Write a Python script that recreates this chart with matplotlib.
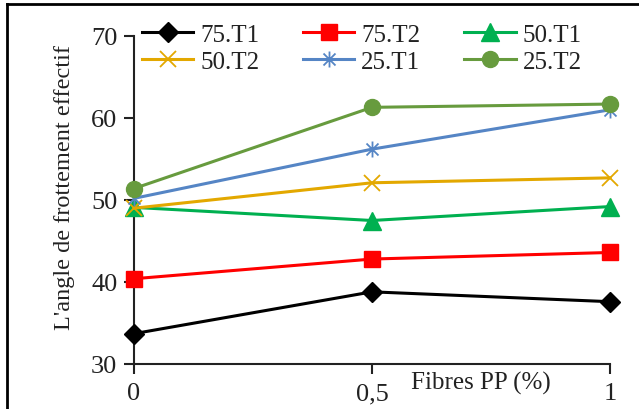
import matplotlib
matplotlib.use("Agg")
import matplotlib.pyplot as plt
from matplotlib.path import Path
from matplotlib.lines import Line2D

plt.rcParams['font.family'] = ['Liberation Serif', 'DejaVu Serif']

# Fibre content (%) and effective friction angle for each mix
fibres = [0, 0.5, 1]
series_names = ["75.T1", "75.T2", "50.T1", "50.T2", "25.T1", "25.T2"]
v_75_T1 = [33.7, 38.8, 37.6]
v_75_T2 = [40.4, 42.8, 43.6]
v_50_T1 = [49.1, 47.5, 49.2]
v_50_T2 = [49.0, 52.1, 52.7]
v_25_T1 = [50.2, 56.2, 61.0]
v_25_T2 = [51.4, 61.3, 61.7]
x_tick_labels = ["0", "0,5", "1"]
y_ticks = [30, 40, 50, 60, 70]

# asterisk marker: vertical bar plus an X
star = Path([(0, -1), (0, 1), (-0.75, -0.75), (0.75, 0.75), (-0.75, 0.75), (0.75, -0.75)],
            [Path.MOVETO, Path.LINETO, Path.MOVETO, Path.LINETO, Path.MOVETO, Path.LINETO])

styles = [
    dict(color="black", marker="D", ms=10.5),
    dict(color="#FF0000", marker="s", ms=12),
    dict(color="#00B050", marker="^", ms=12.5),
    dict(color="#E3A800", marker="x", ms=11.5, mew=1.3),
    dict(color="#5585C5", marker=star, ms=11.5, mew=1.3, mfc="none"),
    dict(color="#679B3E", marker="o", ms=11.5),
]
values = [v_75_T1, v_75_T2, v_50_T1, v_50_T2, v_25_T1, v_25_T2]

W, H = 639, 410
fig = plt.figure(figsize=(W / 100, H / 100), dpi=100)
ax = fig.add_axes([134 / W, 1 - 365 / H, (610 - 134) / W, (365 - 37) / H])

lines = []
for name, vals, st in zip(series_names, values, styles):
    ln, = ax.plot(fibres, vals, label=name, lw=2.2, clip_on=False, zorder=3, **st)
    lines.append(ln)

ax.set_xlim(0, 1)
ax.set_ylim(30, 70)
ax.set_xticks(fibres)
ax.set_xticklabels(x_tick_labels)
ax.set_yticks(y_ticks)
for s in ("top", "right"):
    ax.spines[s].set_visible(False)
for s in ("left", "bottom"):
    ax.spines[s].set_linewidth(1.5)
    ax.spines[s].set_color("#222222")
ax.tick_params(axis="both", direction="out", length=7, width=1.5, labelsize=19,
               colors="#222222", labelcolor="#222222")
ax.tick_params(axis="x", pad=6)
ax.tick_params(axis="y", pad=5)

fig.text(65 / W, 1 - 187 / H, "L'angle de frottement effectif", rotation=90,
         ha="center", va="center", fontsize=17.5, color="#222222")
fig.text(481 / W, 1 - 383 / H, "Fibres PP (%)", ha="center", va="center",
         fontsize=18, color="#222222")

# legend filled row by row (matplotlib fills columns first)
order = [0, 3, 1, 4, 2, 5]
leg = fig.legend([lines[i] for i in order], [series_names[i] for i in order],
                 loc="upper left", bbox_to_anchor=(142 / W, 1 - 24 / H), ncol=3,
                 frameon=False, fontsize=18, handlelength=2.05, handletextpad=0.28,
                 columnspacing=1.75, labelspacing=0.2, borderaxespad=0, borderpad=0)
for t in leg.get_texts():
    t.set_color("#222222")

# outer frame (left and top edges)
fig.add_artist(Line2D([7 / W, 7 / W], [0, 1 - 5 / H], transform=fig.transFigure,
                      color="black", lw=2))
fig.add_artist(Line2D([7 / W, 1], [1 - 5 / H, 1 - 5 / H], transform=fig.transFigure,
                      color="black", lw=2))

fig.savefig("out.png", dpi=100)
